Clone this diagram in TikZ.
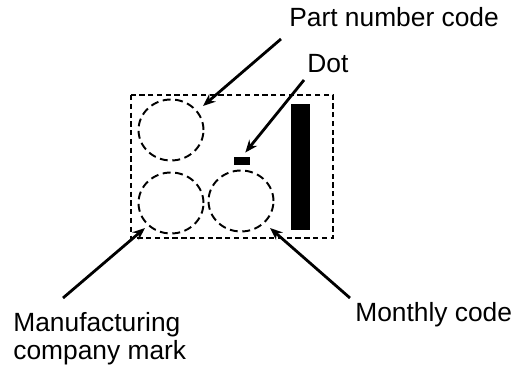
\documentclass[tikz,border=0pt]{standalone}
\usepackage{fontspec}
\setmainfont{Liberation Sans}
\usetikzlibrary{shapes.geometric, arrows.meta, positioning}

\begin{document}
\begin{tikzpicture}[
    x=0.02cm, y=-0.02cm,
    font=\fontsize{15}{15.9}\selectfont,
    markarea/.style={draw, ellipse, dashed, dash pattern=on 4.5pt off 2.6pt, line width=1.1pt, minimum width=1.3cm, minimum height=1.22cm, inner sep=0pt},
    lbl/.style={anchor=base west, align=left, inner sep=0pt},
    pointer/.style={draw, line width=1.6pt, -{Stealth[length=0.25cm, width=0.2cm]}}
]
    \useasboundingbox (0,0) rectangle (515,367);

    % Package outline
    \draw[dashed, dash pattern=on 3pt off 2pt, line width=0.8pt] (131,95) rectangle (333,238);

    % Marking areas
    \node[markarea] (partno) at (171,130) {};
    \node[markarea] (maker) at (171,203) {};
    \node[markarea] (month) at (241,201) {};
    \node[fill, minimum width=0.32cm, minimum height=0.16cm, inner sep=0pt] (dot) at (242,161) {};
    \node[fill, minimum width=0.38cm, minimum height=2.52cm, inner sep=0pt] (bar) at (300.5,167) {};

    % Labels
    \node[lbl] (partlbl) at (289,27) {Part number code};
    \node[lbl] (dotlbl) at (307,73) {Dot};
    \node[lbl] (monthlbl) at (355,322) {Monthly code};
    \node[lbl, anchor=north west] (makerlbl) at (13,312) {Manufacturing\\company mark};

    % Arrow ends
    \coordinate (parttail) at (281,39);
    \coordinate (parttip) at (203,106);
    \coordinate (dottail) at (304,80);
    \coordinate (makertail) at (63,298);
    \coordinate (makertip) at (145,228);
    \coordinate (monthtail) at (350,298);
    \coordinate (monthtip) at (270,228);

    % Arrows
    \draw[pointer] (parttail) -- (parttip);
    \draw[pointer, shorten >=3pt] (dottail) -- (dot.north);
    \draw[pointer] (makertail) -- (makertip);
    \draw[pointer] (monthtail) -- (monthtip);
\end{tikzpicture}
\end{document}
